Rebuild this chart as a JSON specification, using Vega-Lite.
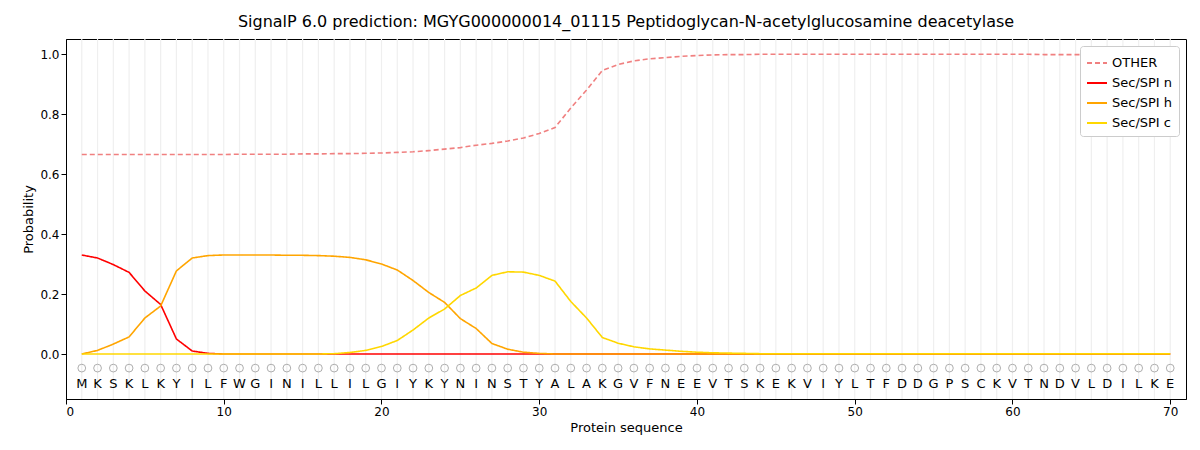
{
  "$schema": "https://vega.github.io/schema/vega-lite/v6.json",
  "width": 1200,
  "height": 450,
  "autosize": {"type": "fit", "contains": "padding"},
  "padding": {"left": 22, "right": 14, "top": 14, "bottom": 16},
  "title": {"text": "SignalP 6.0 prediction: MGYG000000014_01115 Peptidoglycan-N-acetylglucosamine deacetylase", "fontSize": 16, "font": "DejaVu Sans", "fontWeight": "normal", "color": "black", "offset": 8},
  "data": {"values": [
    {"p":1,"a":"M","o":0.665,"n":0.33,"h":0.0,"c":0},
    {"p":2,"a":"K","o":0.665,"n":0.32,"h":0.012,"c":0},
    {"p":3,"a":"S","o":0.665,"n":0.298,"h":0.033,"c":0},
    {"p":4,"a":"K","o":0.665,"n":0.272,"h":0.057,"c":0},
    {"p":5,"a":"L","o":0.665,"n":0.21,"h":0.12,"c":0},
    {"p":6,"a":"K","o":0.665,"n":0.165,"h":0.16,"c":0},
    {"p":7,"a":"Y","o":0.665,"n":0.05,"h":0.277,"c":0},
    {"p":8,"a":"I","o":0.665,"n":0.01,"h":0.32,"c":0},
    {"p":9,"a":"L","o":0.665,"n":0.002,"h":0.328,"c":0},
    {"p":10,"a":"F","o":0.665,"n":0,"h":0.33,"c":0},
    {"p":11,"a":"W","o":0.666,"n":0,"h":0.33,"c":0},
    {"p":12,"a":"G","o":0.666,"n":0,"h":0.33,"c":0},
    {"p":13,"a":"I","o":0.666,"n":0,"h":0.33,"c":0},
    {"p":14,"a":"N","o":0.666,"n":0,"h":0.329,"c":0},
    {"p":15,"a":"I","o":0.667,"n":0,"h":0.329,"c":0},
    {"p":16,"a":"L","o":0.667,"n":0,"h":0.328,"c":0},
    {"p":17,"a":"L","o":0.668,"n":0,"h":0.326,"c":0.001},
    {"p":18,"a":"I","o":0.668,"n":0,"h":0.322,"c":0.005},
    {"p":19,"a":"L","o":0.669,"n":0,"h":0.314,"c":0.012},
    {"p":20,"a":"G","o":0.670,"n":0,"h":0.3,"c":0.025},
    {"p":21,"a":"I","o":0.672,"n":0,"h":0.28,"c":0.045},
    {"p":22,"a":"Y","o":0.674,"n":0,"h":0.245,"c":0.08},
    {"p":23,"a":"K","o":0.678,"n":0,"h":0.205,"c":0.12},
    {"p":24,"a":"Y","o":0.683,"n":0,"h":0.172,"c":0.15},
    {"p":25,"a":"N","o":0.688,"n":0,"h":0.118,"c":0.195},
    {"p":26,"a":"I","o":0.696,"n":0,"h":0.085,"c":0.22},
    {"p":27,"a":"N","o":0.702,"n":0,"h":0.035,"c":0.262},
    {"p":28,"a":"S","o":0.71,"n":0,"h":0.016,"c":0.274},
    {"p":29,"a":"T","o":0.72,"n":0,"h":0.006,"c":0.273},
    {"p":30,"a":"Y","o":0.735,"n":0,"h":0.002,"c":0.262},
    {"p":31,"a":"A","o":0.755,"n":0,"h":0,"c":0.243},
    {"p":32,"a":"L","o":0.82,"n":0,"h":0,"c":0.175},
    {"p":33,"a":"A","o":0.88,"n":0,"h":0,"c":0.12},
    {"p":34,"a":"K","o":0.945,"n":0,"h":0,"c":0.055},
    {"p":35,"a":"G","o":0.965,"n":0,"h":0,"c":0.036},
    {"p":36,"a":"V","o":0.977,"n":0,"h":0,"c":0.024},
    {"p":37,"a":"F","o":0.984,"n":0,"h":0,"c":0.017},
    {"p":38,"a":"N","o":0.988,"n":0,"h":0,"c":0.013},
    {"p":39,"a":"E","o":0.992,"n":0,"h":0,"c":0.009},
    {"p":40,"a":"E","o":0.995,"n":0,"h":0,"c":0.006},
    {"p":41,"a":"V","o":0.997,"n":0,"h":0,"c":0.004},
    {"p":42,"a":"T","o":0.998,"n":0,"h":0,"c":0.003},
    {"p":43,"a":"S","o":0.998,"n":0,"h":0,"c":0.002},
    {"p":44,"a":"K","o":0.999,"n":0,"h":0,"c":0.001},
    {"p":45,"a":"E","o":0.999,"n":0,"h":0,"c":0.001},
    {"p":46,"a":"K","o":0.999,"n":0,"h":0,"c":0.001},
    {"p":47,"a":"V","o":0.999,"n":0,"h":0,"c":0.001},
    {"p":48,"a":"I","o":0.999,"n":0,"h":0,"c":0.001},
    {"p":49,"a":"Y","o":0.999,"n":0,"h":0,"c":0.001},
    {"p":50,"a":"L","o":0.999,"n":0,"h":0,"c":0.001},
    {"p":51,"a":"T","o":0.999,"n":0,"h":0,"c":0.001},
    {"p":52,"a":"F","o":0.999,"n":0,"h":0,"c":0.001},
    {"p":53,"a":"D","o":0.999,"n":0,"h":0,"c":0.001},
    {"p":54,"a":"D","o":0.999,"n":0,"h":0,"c":0.001},
    {"p":55,"a":"G","o":0.999,"n":0,"h":0,"c":0.001},
    {"p":56,"a":"P","o":0.999,"n":0,"h":0,"c":0.001},
    {"p":57,"a":"S","o":0.999,"n":0,"h":0,"c":0.001},
    {"p":58,"a":"C","o":0.999,"n":0,"h":0,"c":0.001},
    {"p":59,"a":"K","o":0.999,"n":0,"h":0,"c":0.001},
    {"p":60,"a":"V","o":0.999,"n":0,"h":0,"c":0.001},
    {"p":61,"a":"T","o":0.999,"n":0,"h":0,"c":0.001},
    {"p":62,"a":"N","o":0.998,"n":0,"h":0,"c":0.001},
    {"p":63,"a":"D","o":0.998,"n":0,"h":0,"c":0.001},
    {"p":64,"a":"V","o":0.998,"n":0,"h":0,"c":0.001},
    {"p":65,"a":"L","o":0.998,"n":0,"h":0,"c":0.001},
    {"p":66,"a":"D","o":0.998,"n":0,"h":0,"c":0.001},
    {"p":67,"a":"I","o":0.998,"n":0,"h":0,"c":0.001},
    {"p":68,"a":"L","o":0.998,"n":0,"h":0,"c":0.001},
    {"p":69,"a":"K","o":0.998,"n":0,"h":0,"c":0.001},
    {"p":70,"a":"E","o":0.998,"n":0,"h":0,"c":0.001}
  ]},
  "layer": [
    {
      "mark": {"type": "rule", "color": "#efefef", "strokeWidth": 1.2},
      "encoding": {
        "x": {"field": "p", "type": "quantitative", "scale": {"domain": [0, 71], "nice": false}, "axis": {"values": [0,10,20,30,40,50,60,70], "title": "Protein sequence", "grid": false, "labelFontSize": 12, "titleFontSize": 13, "titleFontWeight": "normal"}},
        "y": {"datum": -0.15, "type": "quantitative", "scale": {"domain": [-0.15, 1.05], "nice": false}, "axis": {"values": [0,0.2,0.4,0.6,0.8,1.0], "format": ".1f", "title": "Probability", "grid": false, "labelFontSize": 12, "titleFontSize": 13, "titleFontWeight": "normal"}},
        "y2": {"datum": 1.05}
      }
    },
    {
      "mark": {"type": "point", "shape": "circle", "color": "grey", "size": 60, "strokeWidth": 0.9},
      "encoding": {
        "x": {"field": "p", "type": "quantitative"},
        "y": {"datum": -0.047, "type": "quantitative"}
      }
    },
    {
      "mark": {"type": "text", "fontSize": 13, "font": "DejaVu Sans", "color": "black"},
      "encoding": {
        "x": {"field": "p", "type": "quantitative"},
        "y": {"datum": -0.1, "type": "quantitative"},
        "text": {"field": "a"}
      }
    },
    {
      "transform": [
        {"fold": ["o", "n", "h", "c"], "as": ["k", "v"]},
        {"calculate": "{'o':'OTHER','n':'Sec/SPI n','h':'Sec/SPI h','c':'Sec/SPI c'}[datum.k]", "as": "series"}
      ],
      "mark": {"type": "line", "strokeWidth": 1.6},
      "encoding": {
        "x": {"field": "p", "type": "quantitative"},
        "y": {"field": "v", "type": "quantitative"},
        "color": {"field": "series", "type": "nominal", "sort": ["OTHER", "Sec/SPI n", "Sec/SPI h", "Sec/SPI c"],
          "scale": {"domain": ["OTHER", "Sec/SPI n", "Sec/SPI h", "Sec/SPI c"], "range": ["#f08080", "#ff0000", "#ffa500", "#ffd700"]},
          "legend": {"title": null, "orient": "top-right", "offset": 7, "labelFontSize": 13, "symbolType": "stroke", "symbolSize": 400, "symbolStrokeWidth": 2, "fillColor": "white", "strokeColor": "#cccccc", "padding": 6, "cornerRadius": 3}},
        "strokeDash": {"field": "series", "type": "nominal",
          "scale": {"domain": ["OTHER", "Sec/SPI n", "Sec/SPI h", "Sec/SPI c"], "range": [[5,3],[1,0],[1,0],[1,0]]},
          "legend": null}
      }
    }
  ],
  "config": {"font": "DejaVu Sans", "view": {"stroke": "black"}, "axis": {"domainColor": "black", "tickColor": "black", "labelColor": "black", "titleColor": "black"}}
}
